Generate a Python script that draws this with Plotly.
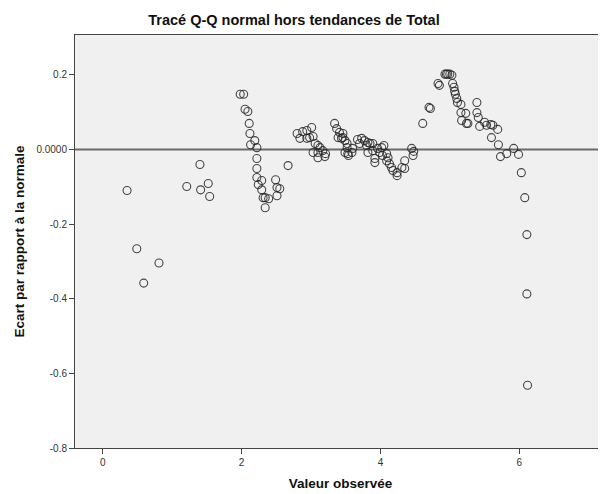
import plotly.graph_objects as go

# Observed values (x) and detrended deviation from normal (y)
observed = [
    0.35, 0.49, 0.59, 0.81, 1.21, 1.40, 1.41, 1.52, 1.54,
    1.98, 2.03, 2.05, 2.09, 2.11, 2.12, 2.13, 2.19, 2.22, 2.22, 2.22, 2.22, 2.29, 2.24, 2.29, 2.31, 2.34, 2.39, 2.34, 2.49, 2.51, 2.55, 2.51, 2.67,
    2.80, 2.88, 2.94, 3.01, 2.84, 2.94, 2.98, 3.03, 3.06, 3.10, 3.13, 3.03, 3.10, 3.17, 3.21, 3.10, 3.20,
    3.34, 3.37, 3.41, 3.46, 3.46, 3.39, 3.44, 3.49, 3.52, 3.52, 3.49, 3.53, 3.59, 3.60, 3.54,
    3.67, 3.73, 3.77, 3.70, 3.82, 3.80, 3.85, 3.89, 3.82, 3.89, 3.92, 3.92, 3.96, 4.02, 4.05, 3.99, 4.03, 4.09, 4.11, 4.09, 4.13, 4.16, 4.18, 4.24, 4.24, 4.35, 4.35, 4.31, 4.45, 4.48, 4.47, 4.61,
    4.70, 4.72, 4.83, 4.85, 4.93, 4.95, 4.97, 5.00, 5.03, 5.04, 5.06, 5.07, 5.08, 5.10, 5.11, 5.16, 5.16, 5.23, 5.17, 5.24, 5.26, 5.39, 5.39, 5.41, 5.43, 5.50, 5.53, 5.59, 5.62, 5.69, 5.60, 5.70, 5.73, 5.82, 5.92, 5.99, 6.03, 6.08, 6.11, 6.11, 6.12,
]
deviation = [
    -0.110, -0.266, -0.358, -0.304, -0.099, -0.040, -0.108, -0.091, -0.126,
    0.148, 0.148, 0.108, 0.102, 0.070, 0.043, 0.013, 0.024, 0.005, -0.024, -0.051, -0.075, -0.083, -0.094, -0.108, -0.129, -0.129, -0.132, -0.156, -0.081, -0.102, -0.105, -0.124, -0.043,
    0.043, 0.048, 0.051, 0.059, 0.030, 0.030, 0.032, 0.035, 0.016, 0.011, 0.005, -0.008, -0.008, -0.003, -0.011, -0.022, -0.019,
    0.070, 0.056, 0.046, 0.043, 0.032, 0.032, 0.030, 0.024, 0.016, 0.005, -0.008, -0.011, -0.008, 0.003, -0.016,
    0.027, 0.030, 0.024, 0.016, 0.019, 0.011, 0.016, 0.016, -0.008, -0.003, -0.024, -0.035, 0.003, 0.005, 0.011, -0.008, -0.016, -0.011, -0.022, -0.030, -0.038, -0.048, -0.056, -0.062, -0.070, -0.030, -0.051, -0.048, 0.003, -0.005, -0.016, 0.070,
    0.113, 0.110, 0.177, 0.172, 0.202, 0.202, 0.202, 0.202, 0.199, 0.177, 0.167, 0.156, 0.148, 0.137, 0.126, 0.121, 0.099, 0.097, 0.078, 0.070, 0.070, 0.126, 0.099, 0.086, 0.062, 0.073, 0.065, 0.067, 0.065, 0.054, 0.032, 0.013, -0.019, -0.011, 0.003, -0.013, -0.062, -0.129, -0.228, -0.387, -0.632,
]

x_tickvals = [0, 2, 4, 6]
x_ticktext = ["0", "2", "4", "6"]
y_tickvals = [0.2, 0.0, -0.2, -0.4, -0.6, -0.8]
y_ticktext = ["0.2", "0.0000", "-0.2", "-0.4", "-0.6", "-0.8"]

title_text = "Tracé Q-Q normal hors tendances de Total"
x_title = "Valeur observée"
y_title = "Ecart par rapport à la normale"

FONT = "Liberation Sans, Arial, sans-serif"

# page body has an 8px default margin, so the figure is sized to fit the window
W, H = 598, 486

fig = go.Figure()
fig.add_trace(go.Scatter(
    x=observed, y=deviation, mode="markers",
    marker=dict(symbol="circle-open", size=8, color="rgba(40,40,40,0.85)",
                line=dict(width=1.1)),
    showlegend=False, hoverinfo="x+y",
))

fig.add_shape(type="line", xref="paper", yref="y", x0=0, x1=1, y0=0, y1=0,
              line=dict(color="#6a6a6a", width=2), layer="below")

fig.update_layout(
    width=W, height=H,
    margin=dict(l=67, r=0, t=27, b=46, pad=0),
    paper_bgcolor="white", plot_bgcolor="#f0f0f0",
    font=dict(family=FONT, color="#222"),
    title=dict(text="<b>" + title_text + "</b>", x=286 / W, xanchor="center",
               y=1 - 12 / H, yanchor="middle", font=dict(size=14.5, color="#111")),
)
fig.update_xaxes(
    range=[-0.40, 7.25], tickvals=x_tickvals, ticktext=x_ticktext,
    showgrid=False, zeroline=False, showline=True, mirror=True,
    linecolor="#444", linewidth=1, ticks="outside", ticklen=5, tickcolor="#444",
    tickfont=dict(size=10, color="#333"),
    title=dict(text="<b>" + x_title + "</b>", font=dict(size=13.5, color="#111"), standoff=11),
    automargin=False,
)
fig.update_yaxes(
    range=[-0.8, 0.307], tickvals=y_tickvals, ticktext=y_ticktext,
    showgrid=False, zeroline=False, showline=True, mirror=True,
    linecolor="#444", linewidth=1, ticks="outside", ticklen=5, tickcolor="#444",
    tickfont=dict(size=10, color="#333"),
    title=dict(text="<b>" + y_title + "</b>", font=dict(size=13.5, color="#111"), standoff=8),
    automargin=False,
)

fig.write_html("out.html")
